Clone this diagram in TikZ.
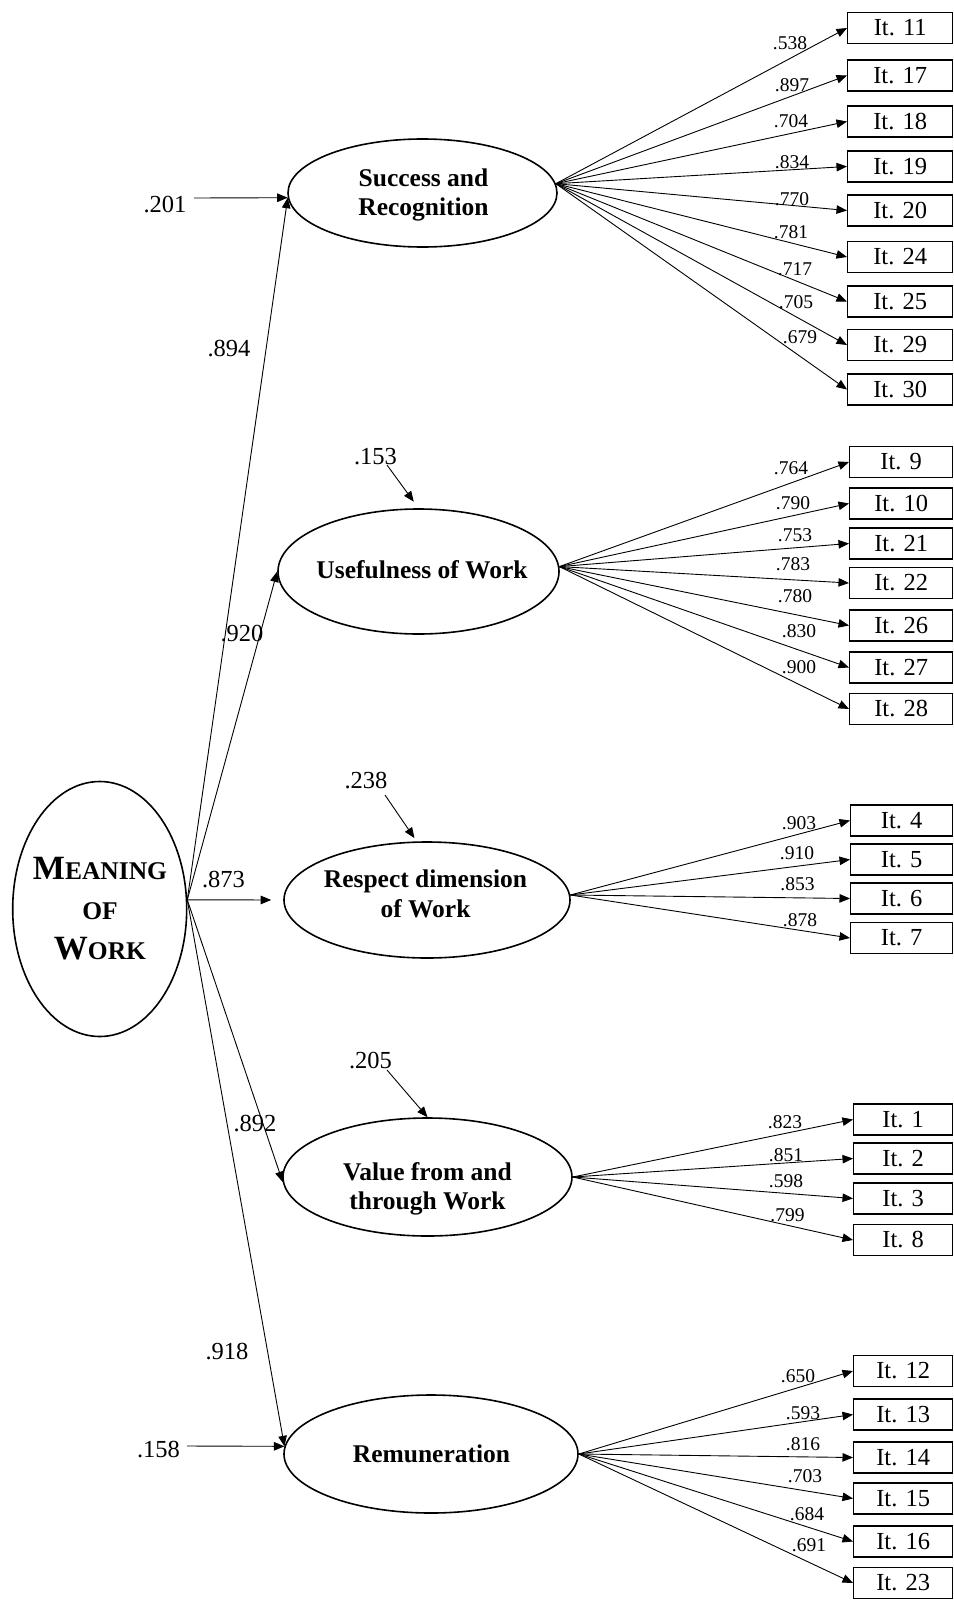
\documentclass[tikz,border=0pt]{standalone}
\usepackage{fontspec}
\setmainfont{Liberation Serif}
\usetikzlibrary{arrows.meta,shapes.geometric}
\newcommand{\mwbig}[1]{{\fontsize{34}{40}\selectfont #1}}
\newcommand{\mwsmall}[1]{{\fontsize{25.5}{40}\selectfont #1}}
\begin{document}
\begin{tikzpicture}[x=1pt,y=-1pt,
  conn/.style={line width=0.9pt, -{Triangle[length=10.5pt,width=8.5pt]}},
  lat/.style={draw, ellipse, line width=1.6pt, inner sep=0pt},
  latxt/.style={font=\fontsize{25.5}{29.5}\selectfont\bfseries, align=center, inner sep=0pt},
  itembox/.style={draw, rectangle, line width=1.4pt, minimum height=31pt, inner sep=0pt, anchor=west, font=\fontsize{24.5}{28}\selectfont},
  ld/.style={font=\fontsize{19.5}{22}\selectfont, inner sep=0pt},
  pl/.style={font=\fontsize{24.5}{28}\selectfont, inner sep=0pt},
]
\fill[white] (0,0) rectangle (953,1603);
\useasboundingbox (0,0) rectangle (953,1603);

% latent variables
\node[lat, minimum width=174pt, minimum height=255pt] (M) at (99.7,909) {};
\node[font=\bfseries\fontsize{34}{40}\selectfont, align=center, inner sep=0pt] (Mt) at (100,909)
  {\mwbig{M}\mwsmall{EANING}\\\mwsmall{OF}\\\mwbig{W}\mwsmall{ORK}};

\node[lat, minimum width=269pt, minimum height=108pt] (S) at (422.5,193) {};
\node[latxt] (St) at (423.5,195) {Success and\\Recognition};

\node[lat, minimum width=281pt, minimum height=125pt] (U) at (418.5,571.5) {};
\node[latxt] (Ut) at (422,570) {Usefulness of Work};

\node[lat, minimum width=286pt, minimum height=116pt] (R) at (427,900) {};
\node[latxt] (Rt) at (425.5,894) {Respect dimension\\of Work};

\node[lat, minimum width=289pt, minimum height=118pt] (V) at (427.5,1177) {};
\node[latxt] (Vt) at (427.5,1189) {Value from and\\through Work};

\node[lat, minimum width=294pt, minimum height=118pt] (Rm) at (431,1454) {};
\node[latxt] (Rmt) at (431.5,1454) {Remuneration};

% structural paths
\draw[conn] (M.6) -- (S.182);
\draw[conn] (M.6) -- (U.west);
\draw[conn, shorten >=12pt] (M.6) -- (R.west);
\draw[conn] (M.6) -- (V.182);
\draw[conn] (M.6) -- (Rm.177);

\node[pl] (p894) at (229,348.5) {.894};
\node[pl] (p920) at (242,634) {.920};
\node[pl] (p873) at (223.5,880) {.873};
\node[pl] (p892) at (255,1124) {.892};
\node[pl] (p918) at (227,1352) {.918};

% residuals
\node[pl] (r201) at (165,205) {.201};
\coordinate (c201) at (194,198);
\draw[conn] (c201) -- (S.182);
\node[pl] (r158) at (158.5,1450) {.158};
\coordinate (c158) at (187,1446);
\draw[conn] (c158) -- (Rm.177);
\node[pl] (r153) at (375.5,456.5) {.153};
\coordinate (c153) at (387,465);
\draw[conn, shorten >=8pt] (c153) -- (U.north);
\node[pl] (r238) at (366,781) {.238};
\coordinate (c238) at (385,795);
\draw[conn, shorten >=4pt] (c238) -- (R.100);
\node[pl] (r205) at (370.5,1060.5) {.205};
\coordinate (c205) at (387,1070);
\draw[conn] (c205) -- (V.north);

% items: Success and Recognition
\foreach \n/\cy/\lv/\lx/\ly in {11/28/.538/790/43, 17/75.5/.897/792/85, 18/121.5/.704/791/121.5,
  19/166.5/.834/792/162, 20/210.5/.770/792/199, 24/257/.781/791/232.5, 25/301.5/.717/795/269,
  29/345/.705/796/302, 30/389.5/.679/800/337}{
  \node[itembox, minimum width=105pt] (i\n) at (847,\cy) {It. \n};
  \draw[conn] (S.4) -- (i\n.west);
  \node[ld] (l\n) at (\lx,\ly) {\lv};
}
% Usefulness of Work
\foreach \n/\cy/\lv/\lx/\ly in {9/462/.764/791/468.5, 10/503.5/.790/793/503.5, 21/543.5/.753/795/535,
  22/583/.783/793/564.5, 26/625.5/.780/795/596, 27/667.5/.830/799/631, 28/709/.900/799/667.5}{
  \node[itembox, minimum width=103pt] (i\n) at (849,\cy) {It. \n};
  \draw[conn] (U.2) -- (i\n.west);
  \node[ld] (l\n) at (\lx,\ly) {\lv};
}
% Respect dimension of Work
\foreach \n/\cy/\lv/\lx/\ly in {4/820.5/.903/799/823, 5/859.5/.910/797/853.5, 6/898.5/.853/797.5/884.5,
  7/938/.878/800/920}{
  \node[itembox, minimum width=102pt] (i\n) at (850,\cy) {It. \n};
  \draw[conn] (R.2) -- (i\n.west);
  \node[ld] (l\n) at (\lx,\ly) {\lv};
}
% Value from and through Work
\foreach \n/\cy/\lv/\lx/\ly in {1/1119.5/.823/785/1122.5, 2/1158.5/.851/786/1155, 3/1198.5/.598/786/1181.5,
  8/1240/.799/787.5/1215}{
  \node[itembox, minimum width=99pt] (i\n) at (853,\cy) {It. \n};
  \draw[conn] (V.east) -- (i\n.west);
  \node[ld] (l\n) at (\lx,\ly) {\lv};
}
% Remuneration
\foreach \n/\cy/\lv/\lx/\ly in {12/1371/.650/798/1376, 13/1414.5/.593/803/1413.5, 14/1457.5/.816/803/1444.5,
  15/1498.5/.703/805/1476.5, 16/1541.5/.684/807/1514.5, 23/1583/.691/809/1545.5}{
  \node[itembox, minimum width=99pt] (i\n) at (853,\cy) {It. \n};
  \draw[conn] (Rm.east) -- (i\n.west);
  \node[ld] (l\n) at (\lx,\ly) {\lv};
}
\end{tikzpicture}
\end{document}
